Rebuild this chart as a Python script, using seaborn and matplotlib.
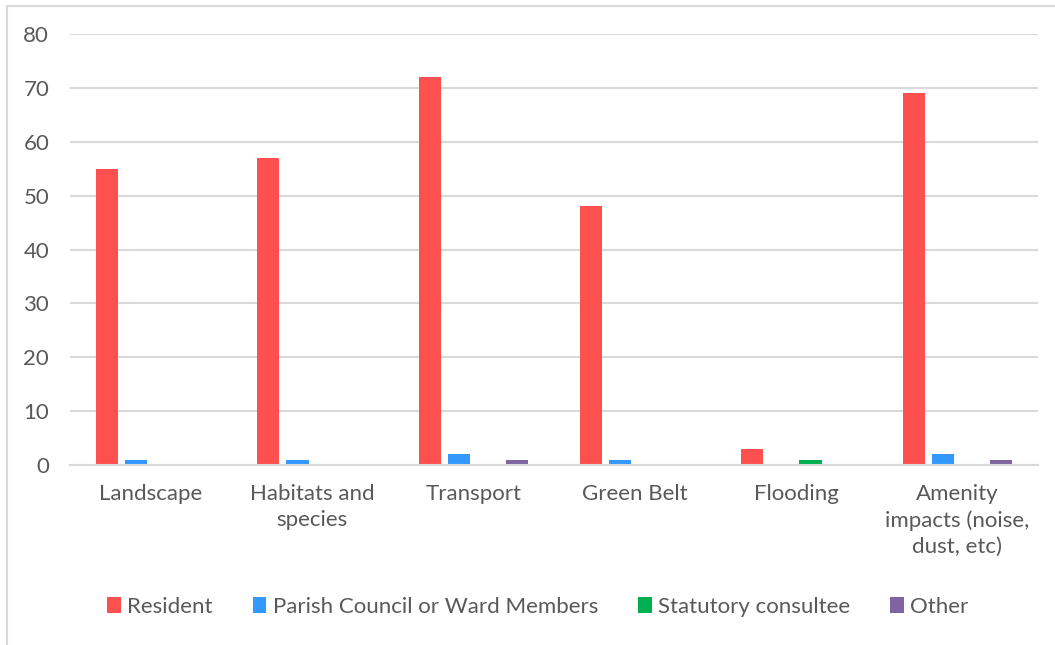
import pandas as pd
import seaborn as sns
import matplotlib.pyplot as plt
from matplotlib.patches import Rectangle

# 数据
categories = ["Landscape", "Habitats and\nspecies", "Transport", "Green Belt",
              "Flooding", "Amenity\nimpacts (noise,\ndust, etc)"]
groups = ["Resident", "Parish Council or Ward Members", "Statutory consultee", "Other"]
resident = [55, 57, 72, 48, 3, 69]
parish = [1, 1, 2, 1, 0, 2]
statutory = [0, 0, 0, 0, 1, 0]
other = [0, 0, 1, 0, 0, 1]
colors = ["#FF5050", "#3399FF", "#00B050", "#8064A2"]

rows = []
for g, vals in zip(groups, [resident, parish, statutory, other]):
    for c, v in zip(categories, vals):
        rows.append({"category": c, "group": g, "value": v})
df = pd.DataFrame(rows)

sns.set_style("white")
plt.rcParams['font.family'] = ['Lato', 'DejaVu Sans']
text_color = "#595959"

fig = plt.figure(figsize=(10.55, 6.45), dpi=100)
ax = fig.add_axes([70 / 1055, 1 - 465 / 645, 968 / 1055, 431 / 645])

sns.barplot(data=df, x="category", y="value", hue="group", palette=colors,
            width=0.72, gap=0.24, ax=ax, legend=True, saturation=1, linewidth=0)

ax.set_ylim(0, 80)
ax.set_yticks(range(0, 81, 10))
ax.set_xlim(-0.5, len(categories) - 0.5)
ax.grid(axis="y", color="#D9D9D9", linewidth=1.5)
ax.set_axisbelow(True)
for s in ["top", "right", "left"]:
    ax.spines[s].set_visible(False)
ax.spines["bottom"].set_color("#D9D9D9")
ax.spines["bottom"].set_linewidth(1.5)
ax.tick_params(axis="both", length=0, labelsize=16, colors=text_color)
ax.tick_params(axis="x", pad=14)
ax.tick_params(axis="y", pad=15)
for lbl in ax.get_xticklabels():
    lbl.set_linespacing(1.35)
ax.set_xlabel("")
ax.set_ylabel("")

ax.legend(loc="center", bbox_to_anchor=(0.51, 1 - 607 / 645), bbox_transform=fig.transFigure,
          ncol=4, frameon=False, fontsize=16, labelcolor=text_color,
          handlelength=0.6, handleheight=0.7, handletextpad=0.3, columnspacing=1.8)

fig.patches.append(Rectangle((7 / 1055, -0.1), 1.2, 1.1 - 6 / 645, transform=fig.transFigure,
                             fill=False, edgecolor="#D9D9D9", linewidth=1.5))

fig.savefig("out.png", dpi=100)
